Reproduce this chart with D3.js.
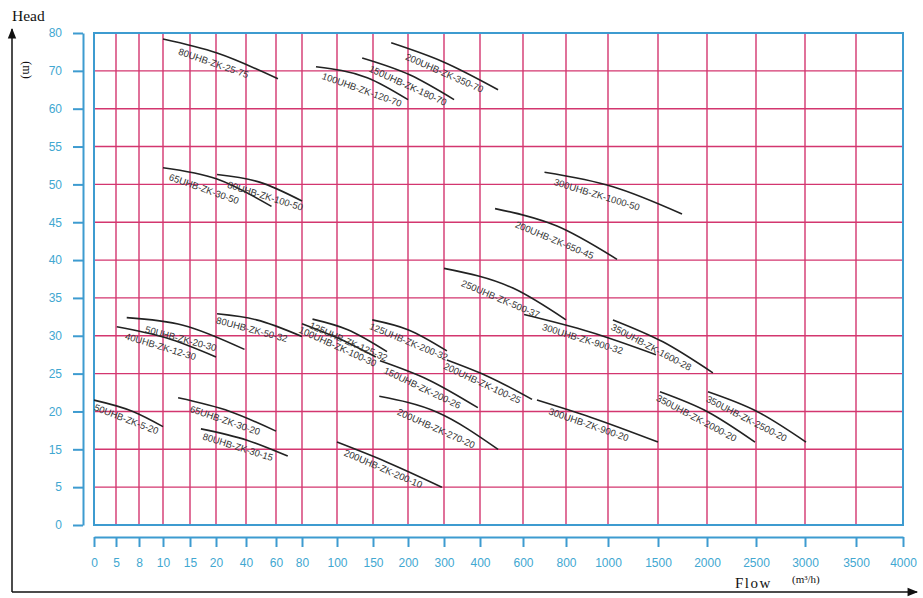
<!DOCTYPE html>
<html lang="en">
<head>
  <meta charset="UTF-8" />
  <title>UHB-ZK pump selection chart</title>
  <style>
    html, body { margin: 0; padding: 0; background: #fff; }
    svg { display: block; }
    .grid line { stroke: #d3366f; stroke-width: 1.4px; }
    .frame { fill: none; stroke: #3d9bd0; stroke-width: 2px; }
    .axis path, .axis line { stroke: #3d9bd0; stroke-width: 2px; }
    .axis text { fill: #41a7d1; font-family: "Liberation Sans", Arial, sans-serif; font-size: 12px; }
    .curve { fill: none; stroke: #222; stroke-width: 1.6px; }
    .model { fill: #333; font-family: "Liberation Sans", Arial, sans-serif; font-size: 9.5px; }
    .title { font-family: "Liberation Serif", "Times New Roman", serif; fill: #111; }
  </style>
  <script src="https://d3js.org/d3.v7.min.js"></script>
</head>
<body>
  <svg id="chart" width="923" height="598"></svg>

  <script>
    // ---------- data ----------
    const xTicks = [0, 5, 8, 10, 15, 20, 40, 60, 80, 100, 150, 200, 300, 400,
                    600, 800, 1000, 1500, 2000, 2500, 3000, 3500, 4000];
    const yTicks = [0, 5, 15, 20, 25, 30, 35, 40, 45, 50, 55, 60, 70, 80];

    const models = [
      "80UHB-ZK-25-75", "100UHB-ZK-120-70", "150UHB-ZK-180-70", "200UHB-ZK-350-70",
      "65UHB-ZK-30-50", "80UHB-ZK-100-50", "300UHB-ZK-1000-50", "200UHB-ZK-650-45",
      "250UHB-ZK-500-37", "300UHB-ZK-900-32", "350UHB-ZK-1600-28", "50UHB-ZK-20-30",
      "40UHB-ZK-12-30", "80UHB-ZK-50-32", "125UHB-ZK-125-32", "100UHB-ZK-100-30",
      "125UHB-ZK-200-32", "150UHB-ZK-200-26", "200UHB-ZK-100-25", "300UHB-ZK-900-20",
      "200UHB-ZK-270-20", "200UHB-ZK-200-10", "350UHB-ZK-2000-20", "350UHB-ZK-2500-20",
      "50UHB-ZK-5-20", "65UHB-ZK-30-20", "80UHB-ZK-30-15"
    ];

    // flow (m3/h), head (m) : start, middle, end of each curve
    const curves = [
      [[10, 78.4], [20.7, 74.7], [61.5, 67.9]],
      [[88, 71.1], [142, 68.2], [200, 62.4]],
      [[135, 73.4], [206, 68.9], [328, 62.4]],
      [[176, 77.4], [297, 72.4], [484, 65]],
      [[10, 52.2], [20.7, 50.7], [57, 47.1]],
      [[20.7, 51.3], [49, 50.3], [80, 47.8]],
      [[700, 51.6], [1050, 49.7], [1745, 46.1]],
      [[470, 46.8], [758, 44.5], [1090, 40.1]],
      [[300, 38.9], [553, 36.3], [800, 32.1]],
      [[605, 32.8], [914, 30.5], [1480, 27.5]],
      [[1050, 32.1], [1550, 29.2], [2060, 25.1]],
      [[6.4, 32.4], [13.7, 31.4], [39, 28.2]],
      [[5.1, 31.2], [10.7, 29.7], [20, 27.2]],
      [[20.7, 32.9], [47, 32.1], [80, 29.9]],
      [[86, 32.2], [115, 30.8], [170, 27.9]],
      [[80, 31.6], [101, 29.7], [154, 27.2]],
      [[149, 32.1], [200, 30.8], [308, 28]],
      [[160, 26.7], [256, 24.2], [394, 20.5]],
      [[308, 26.8], [447, 24.5], [642, 21.6]],
      [[665, 21.5], [920, 19.2], [1500, 15.95]],
      [[159, 22], [281, 19.9], [484, 15]],
      [[100, 15.95], [170, 11.6], [294, 5]],
      [[1520, 22.6], [2000, 20], [2490, 15.95]],
      [[2010, 22.6], [2510, 20], [3010, 15.95]],
      [[0, 21.5], [7.2, 20], [10, 18]],
      [[12.8, 21.8], [29.3, 20], [60, 17.4]],
      [[17.1, 17.7], [40.7, 16.2], [69, 13.2]]
    ];

    // ---------- layout ----------
    const plot = { left: 94, right: 903, top: 33, bottom: 525 };
    // pixel stop of each x tick (the chart's flow axis is not uniform)
    const xStops = [94, 116, 139, 163, 190, 216, 246, 276, 302, 337, 373, 408, 444,
                    480, 523, 566, 608, 658, 707, 756, 805, 856, 903];
    // how far (px) each model name starts after its curve start
    const labelShift = [19, 9, 11, 19, 9, 13, 12, 25, 22, 21, 2, 21, 11, 1,
                        0, 0, 0, 8, 0, 15, 23, 11, 0, 2, 3, 15, 4];

    const svg = d3.select("#chart");

    const x = d3.scaleLinear().domain(xTicks).range(xStops);
    const y = d3.scaleLinear()
      .domain(yTicks)
      .range(yTicks.map((d, i) => plot.bottom - i * (plot.bottom - plot.top) / (yTicks.length - 1)));

    // grid
    const grid = svg.append("g").attr("class", "grid");
    grid.selectAll("line.v")
      .data(xTicks.slice(1, -1))
      .enter().append("line")
      .attr("x1", d => x(d)).attr("x2", d => x(d))
      .attr("y1", plot.top).attr("y2", plot.bottom);
    grid.selectAll("line.h")
      .data(yTicks.slice(1, -1))
      .enter().append("line")
      .attr("x1", plot.left).attr("x2", plot.right)
      .attr("y1", d => y(d)).attr("y2", d => y(d));

    svg.append("rect")
      .attr("class", "frame")
      .attr("x", plot.left).attr("y", plot.top)
      .attr("width", plot.right - plot.left)
      .attr("height", plot.bottom - plot.top);

    // axes (drawn a little apart from the frame, like the original)
    svg.append("g")
      .attr("class", "axis")
      .attr("transform", "translate(83,0)")
      .call(d3.axisLeft(y).tickValues(yTicks).tickFormat(d3.format("d"))
        .tickSize(10).tickSizeOuter(0).tickPadding(11));

    svg.append("g")
      .attr("class", "axis")
      .attr("transform", "translate(0,537)")
      .call(d3.axisBottom(x).tickValues(xTicks).tickFormat(d3.format("d"))
        .tickSize(10).tickSizeOuter(0).tickPadding(11));

    // curves
    const line = d3.line()
      .x(d => x(d[0]))
      .y(d => y(d[1]))
      .curve(d3.curveMonotoneX);

    svg.append("g")
      .selectAll("path")
      .data(curves)
      .enter().append("path")
      .attr("class", "curve")
      .attr("d", line);

    // model labels, laid along the chord under each curve
    svg.append("g")
      .selectAll("text")
      .data(curves)
      .enter().append("text")
      .attr("class", "model")
      .attr("transform", d => {
        const a = d[0], b = d[d.length - 1];
        const x0 = x(a[0]), y0 = y(a[1]);
        const ang = Math.atan2(y(b[1]) - y0, x(b[0]) - x0) * 180 / Math.PI;
        return `translate(${x0},${y0}) rotate(${ang})`;
      })
      .attr("x", (d, i) => labelShift[i])
      .attr("y", 9.5)
      .text((d, i) => models[i]);

    // outer arrows and titles
    const defs = svg.append("defs");
    defs.append("marker")
      .attr("id", "arrow")
      .attr("viewBox", "0 0 10 10")
      .attr("refX", 9).attr("refY", 5)
      .attr("markerWidth", 9).attr("markerHeight", 7)
      .attr("orient", "auto")
      .append("path")
      .attr("d", "M0,1 L10,5 L0,9 Z")
      .attr("fill", "#111");

    svg.append("path")
      .attr("d", "M12,592 L12,29")
      .attr("stroke", "#111").attr("stroke-width", 1.5)
      .attr("marker-end", "url(#arrow)");
    svg.append("path")
      .attr("d", "M12,592 L917,592")
      .attr("stroke", "#111").attr("stroke-width", 1.5)
      .attr("marker-end", "url(#arrow)");

    svg.append("text").attr("class", "title")
      .attr("x", 12).attr("y", 21)
      .style("font-size", "15.5px")
      .text("Head");

    svg.append("text").attr("class", "title")
      .attr("transform", "translate(23,70) rotate(90)")
      .attr("text-anchor", "middle")
      .style("font-size", "12px")
      .text("(m)");

    svg.append("text").attr("class", "title")
      .attr("x", 735).attr("y", 588)
      .style("font-size", "15px")
      .style("letter-spacing", "1.5px")
      .text("Flow");

    svg.append("text").attr("class", "title")
      .attr("x", 792).attr("y", 583)
      .style("font-size", "11px")
      .text("(m³/h)");
  </script>
</body>
</html>
